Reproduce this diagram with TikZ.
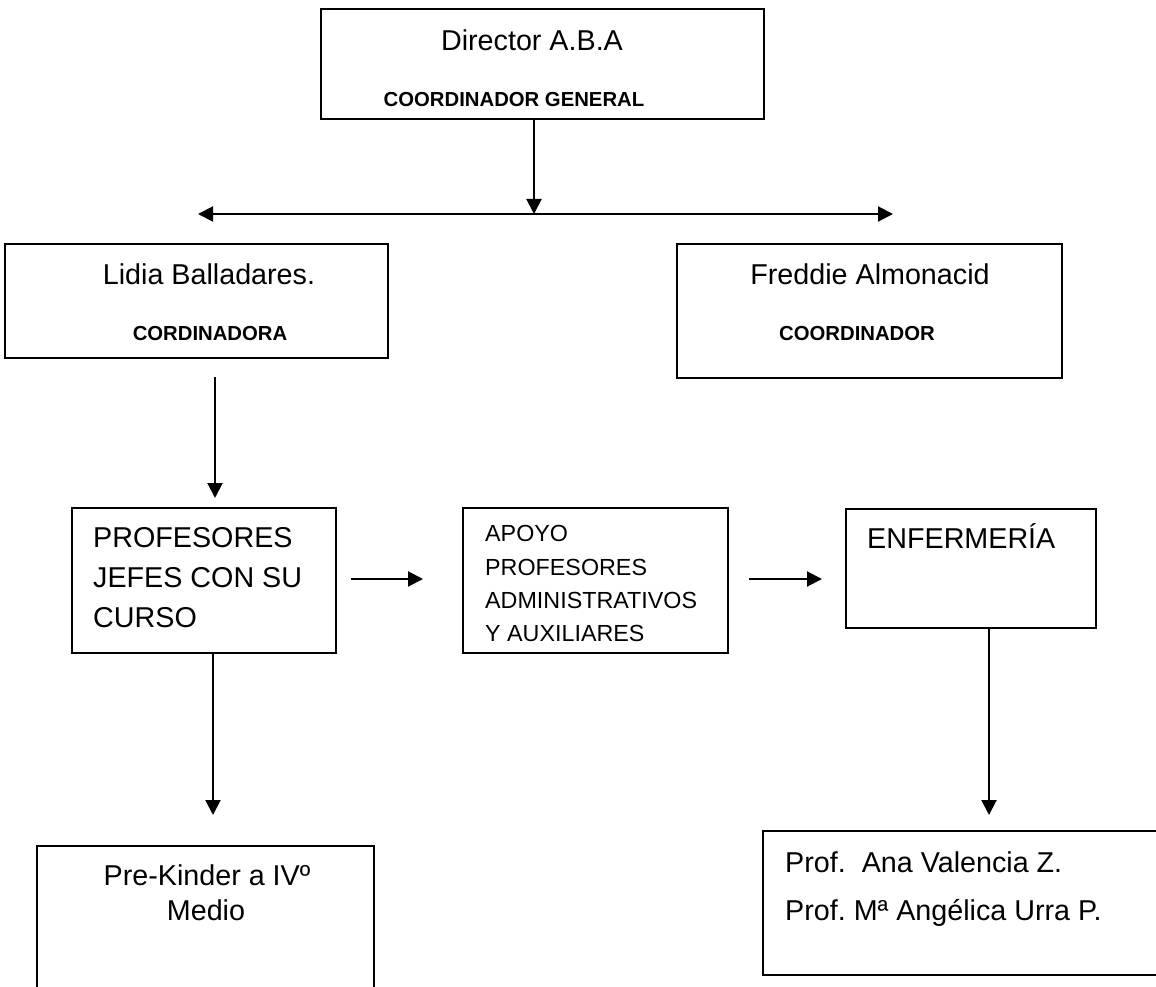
\documentclass[tikz,border=0pt]{standalone}
\usepackage{fontspec}
\setmainfont{Liberation Sans}
\usetikzlibrary{arrows.meta,calc}
\frenchspacing
\begin{document}
\begin{tikzpicture}[x=1pt,y=-1pt,
  box/.style={draw,line width=2pt,inner sep=0pt},
  big/.style={font=\fontsize{28.7}{33}\selectfont,inner sep=0pt},
  lbl/.style={font=\bfseries\fontsize{20.3}{24}\selectfont,inner sep=0pt},
  mid/.style={font=\fontsize{23.3}{28}\selectfont,inner sep=0pt},
  arr/.style={line width=2pt,-{Triangle[length=15pt,width=15pt]}},
  darr/.style={line width=2pt,{Triangle[length=15pt,width=15pt]}-{Triangle[length=15pt,width=15pt]}}]
\fill[white] (0,0) rectangle (1156,987);
\useasboundingbox (0,0) rectangle (1156,987);
\begin{scope}
\clip (0,0) rectangle (1156,987);
% boxes
\node[box,minimum width=443,minimum height=110] (dir) at (542.5,64) {};
\node[box,minimum width=383,minimum height=114] (lidia) at (196.5,301) {};
\node[box,minimum width=385,minimum height=134] (fred) at (869.5,311) {};
\node[box,minimum width=264,minimum height=145] (prof) at (204,580.5) {};
\node[box,minimum width=265,minimum height=145] (apoyo) at (595.5,580.5) {};
\node[box,minimum width=250,minimum height=119] (enf) at (971,568.5) {};
\node[box,minimum width=337,minimum height=180] (pk) at (205.5,936) {};
\node[box,minimum width=420,minimum height=144] (ana) at (973,903) {};
\end{scope}
% texts
\node[big,anchor=base] (t1) at (532,51) {Director A.B.A};
\node[lbl,anchor=base] (t2) at (514,107) {COORDINADOR GENERAL};
\node[big,anchor=base] (t3) at (209,284) {Lidia Balladares.};
\node[lbl,anchor=base] (t4) at (210,340) {CORDINADORA};
\node[big,anchor=base] (t5) at (870,284) {Freddie Almonacid};
\node[lbl,anchor=base] (t6) at (857,340) {COORDINADOR};
\node[big,anchor=base west] (p1) at (93,547) {PROFESORES};
\node[big,anchor=base west] (p2) at (93,587) {JEFES CON SU};
\node[big,anchor=base west] (p3) at (93,627) {CURSO};
\node[mid,anchor=base west] (a1) at (485,541) {APOYO};
\node[mid,anchor=base west] (a2) at (485,575) {PROFESORES};
\node[mid,anchor=base west] (a3) at (485,608) {ADMINISTRATIVOS};
\node[mid,anchor=base west] (a4) at (485,641) {Y AUXILIARES};
\node[big,anchor=base west] (e1) at (867,548) {ENFERMERÍA};
\node[big,anchor=base] (k1) at (207,885) {Pre-Kinder a IVº};
\node[big,anchor=base] (k2) at (206,920) {Medio};
\node[big,anchor=base west] (n1) at (785,872) {Prof.\ \ Ana Valencia Z.};
\node[big,anchor=base west] (n2) at (785,920) {Prof.\ Mª Angélica Urra P.};
% connectors
\coordinate (hub) at (534,214);
\coordinate (hl) at (198,214);
\coordinate (hr) at (893,214);
\draw[arr] (dir.south -| hub) -- (hub);
\draw[darr] (hl) -- (hr);
\coordinate (l1) at (215,377);
\coordinate (l2) at (215,498);
\draw[arr] (l1) -- (l2);
\coordinate (h1) at (351,579);
\coordinate (h2) at (423,579);
\draw[arr] (h1) -- (h2);
\coordinate (h3) at (749,579);
\coordinate (h4) at (822,579);
\draw[arr] (h3) -- (h4);
\coordinate (v1) at (213,815);
\draw[arr] (prof.south -| v1) -- (v1);
\coordinate (v2) at (989,815);
\draw[arr] (enf.south -| v2) -- (v2);
\end{tikzpicture}
\end{document}
